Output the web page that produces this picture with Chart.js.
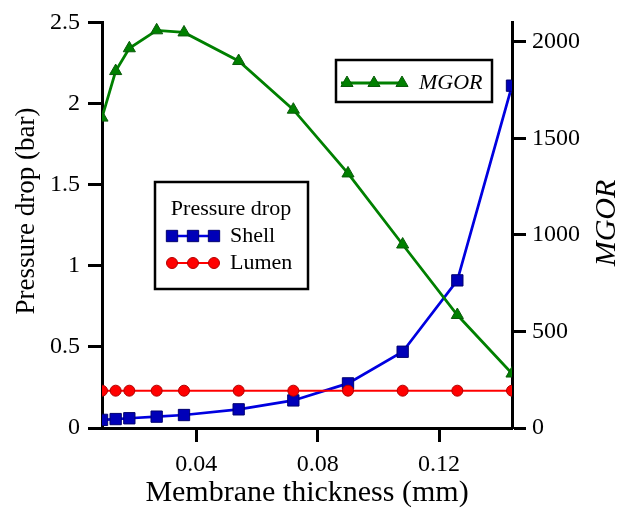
<!DOCTYPE html>
<html>
<head>
<meta charset="utf-8">
<script src="https://cdn.jsdelivr.net/npm/chart.js@4/dist/chart.umd.min.js"></script>
<style>
  html, body { margin: 0; padding: 0; background: #fff; }
  canvas { display: block; }
</style>
</head>
<body>
<canvas id="chart" width="629" height="513"></canvas>
<script>
// ---- data ----
const thickness = [0.009, 0.0135, 0.018, 0.027, 0.036, 0.054, 0.072, 0.09, 0.108, 0.126, 0.144];
const shellDrop = [0.05, 0.055, 0.06, 0.07, 0.08, 0.115, 0.17, 0.275, 0.47, 0.91, 2.11];
const lumenDrop = [0.23, 0.23, 0.23, 0.23, 0.23, 0.23, 0.23, 0.23, 0.23, 0.23, 0.23];
const mgor = [1607, 1848, 1966, 2059, 2048, 1900, 1648, 1318, 950, 585, 282];

const xTicks = [0.04, 0.08, 0.12];
const pressureTicks = [0, 0.5, 1, 1.5, 2, 2.5];
const mgorTicks = [0, 500, 1000, 1500, 2000];

const SERIF = "'Liberation Serif', serif";

const toPoints = (ys) => thickness.map((x, i) => ({ x, y: ys[i] }));

const axisStyle = {
  grid: { drawOnChartArea: false, drawTicks: true, tickLength: 14, tickWidth: 3, tickColor: "#000" },
  border: { display: true, color: "#000", width: 3 },
};
const tickFont = { family: SERIF, size: 24 };

// ---- legends + axis titles drawn by hand ----
function legendSample(ctx, ds, x0, x1, y, marks) {
  ctx.save();
  ctx.strokeStyle = ds.borderColor;
  ctx.lineWidth = ds.borderWidth;
  ctx.beginPath();
  ctx.moveTo(x0, y);
  ctx.lineTo(x1, y);
  ctx.stroke();
  ctx.fillStyle = ds.pointBackgroundColor;
  ctx.strokeStyle = ds.pointBorderColor;
  ctx.lineWidth = ds.pointBorderWidth;
  for (const mx of marks) {
    Chart.helpers.drawPoint(ctx, { pointStyle: ds.pointStyle, radius: ds.pointRadius, rotation: 0, borderWidth: ds.pointBorderWidth }, mx, y);
  }
  ctx.restore();
}

const decorations = {
  id: "decorations",
  afterDraw(chart) {
    const ctx = chart.ctx;
    const [dsMgor, dsLumen, dsShell] = chart.data.datasets;
    ctx.save();
    ctx.fillStyle = "#000";
    ctx.strokeStyle = "#000";

    // axis titles
    ctx.textAlign = "center";
    ctx.textBaseline = "middle";
    ctx.font = "30px " + SERIF;
    ctx.fillText("Membrane thickness (mm)", 307, 493);

    ctx.save();
    ctx.translate(27, 211);
    ctx.rotate(-Math.PI / 2);
    ctx.font = "27px " + SERIF;
    ctx.fillText("Pressure drop (bar)", 0, 0);
    ctx.restore();

    ctx.save();
    ctx.translate(607, 223);
    ctx.rotate(-Math.PI / 2);
    ctx.font = "italic 30px " + SERIF;
    ctx.fillText("MGOR", 0, 0);
    ctx.restore();

    // MGOR legend box
    ctx.lineWidth = 2.5;
    ctx.strokeRect(336, 60, 156, 42);
    legendSample(ctx, dsMgor, 341, 405, 83, [347, 374, 402]);
    ctx.fillStyle = "#000";
    ctx.textAlign = "left";
    ctx.font = "italic 22px " + SERIF;
    ctx.fillText("MGOR", 419, 83);

    // pressure drop legend box
    ctx.lineWidth = 2.5;
    ctx.strokeRect(155, 182, 153, 107);
    ctx.textAlign = "center";
    ctx.font = "22px " + SERIF;
    ctx.fillText("Pressure drop", 231, 209);
    legendSample(ctx, dsShell, 172, 214, 236, [172, 193, 214]);
    legendSample(ctx, dsLumen, 172, 214, 263, [172, 193, 214]);
    ctx.fillStyle = "#000";
    ctx.textAlign = "left";
    ctx.fillText("Shell", 230, 236);
    ctx.fillText("Lumen", 230, 263);
    ctx.restore();
  },
};

new Chart(document.getElementById("chart"), {
  type: "line",
  data: {
    datasets: [
      {
        label: "MGOR",
        data: toPoints(mgor),
        yAxisID: "yR",
        borderColor: "#008000",
        borderWidth: 2.8,
        pointStyle: "triangle",
        pointRadius: 7,
        pointBackgroundColor: "#008000",
        pointBorderColor: "#0a5a0a",
        pointBorderWidth: 1,
        tension: 0,
      },
      {
        label: "Lumen",
        data: toPoints(lumenDrop),
        yAxisID: "yL",
        borderColor: "#ff0000",
        borderWidth: 2,
        pointStyle: "circle",
        pointRadius: 5.5,
        pointBackgroundColor: "#ff0000",
        pointBorderColor: "#b00000",
        pointBorderWidth: 1,
        tension: 0,
      },
      {
        label: "Shell",
        data: toPoints(shellDrop),
        yAxisID: "yL",
        borderColor: "#0000e0",
        borderWidth: 2.7,
        pointStyle: "rect",
        pointRadius: 8,
        pointBackgroundColor: "#0000b8",
        pointBorderColor: "#000070",
        pointBorderWidth: 1,
        tension: 0,
      },
    ],
  },
  options: {
    responsive: false,
    animation: false,
    layout: { padding: { top: 19, left: 0, right: 0, bottom: 0 } },
    plugins: { legend: { display: false }, tooltip: { enabled: false } },
    scales: {
      x: {
        type: "linear",
        min: 0.009,
        max: 0.144,
        ...axisStyle,
        afterBuildTicks: (s) => { s.ticks = xTicks.map((v) => ({ value: v })); },
        afterFit: (s) => { s.height = 85; },
        ticks: { color: "#000", padding: 8, font: tickFont, callback: (v) => String(v) },
      },
      yL: {
        position: "left",
        min: 0,
        max: 2.5,
        ...axisStyle,
        afterBuildTicks: (s) => { s.ticks = pressureTicks.map((v) => ({ value: v })); },
        afterFit: (s) => { s.width = 102; },
        ticks: { color: "#000", padding: 8, font: tickFont, callback: (v) => String(v) },
      },
      yR: {
        position: "right",
        min: 0,
        max: 2100,
        ...axisStyle,
        afterBuildTicks: (s) => { s.ticks = mgorTicks.map((v) => ({ value: v })); },
        afterFit: (s) => { s.width = 117; },
        ticks: { color: "#000", padding: 6, font: tickFont, callback: (v) => String(v) },
      },
    },
  },
  plugins: [decorations],
});
</script>
</body>
</html>
